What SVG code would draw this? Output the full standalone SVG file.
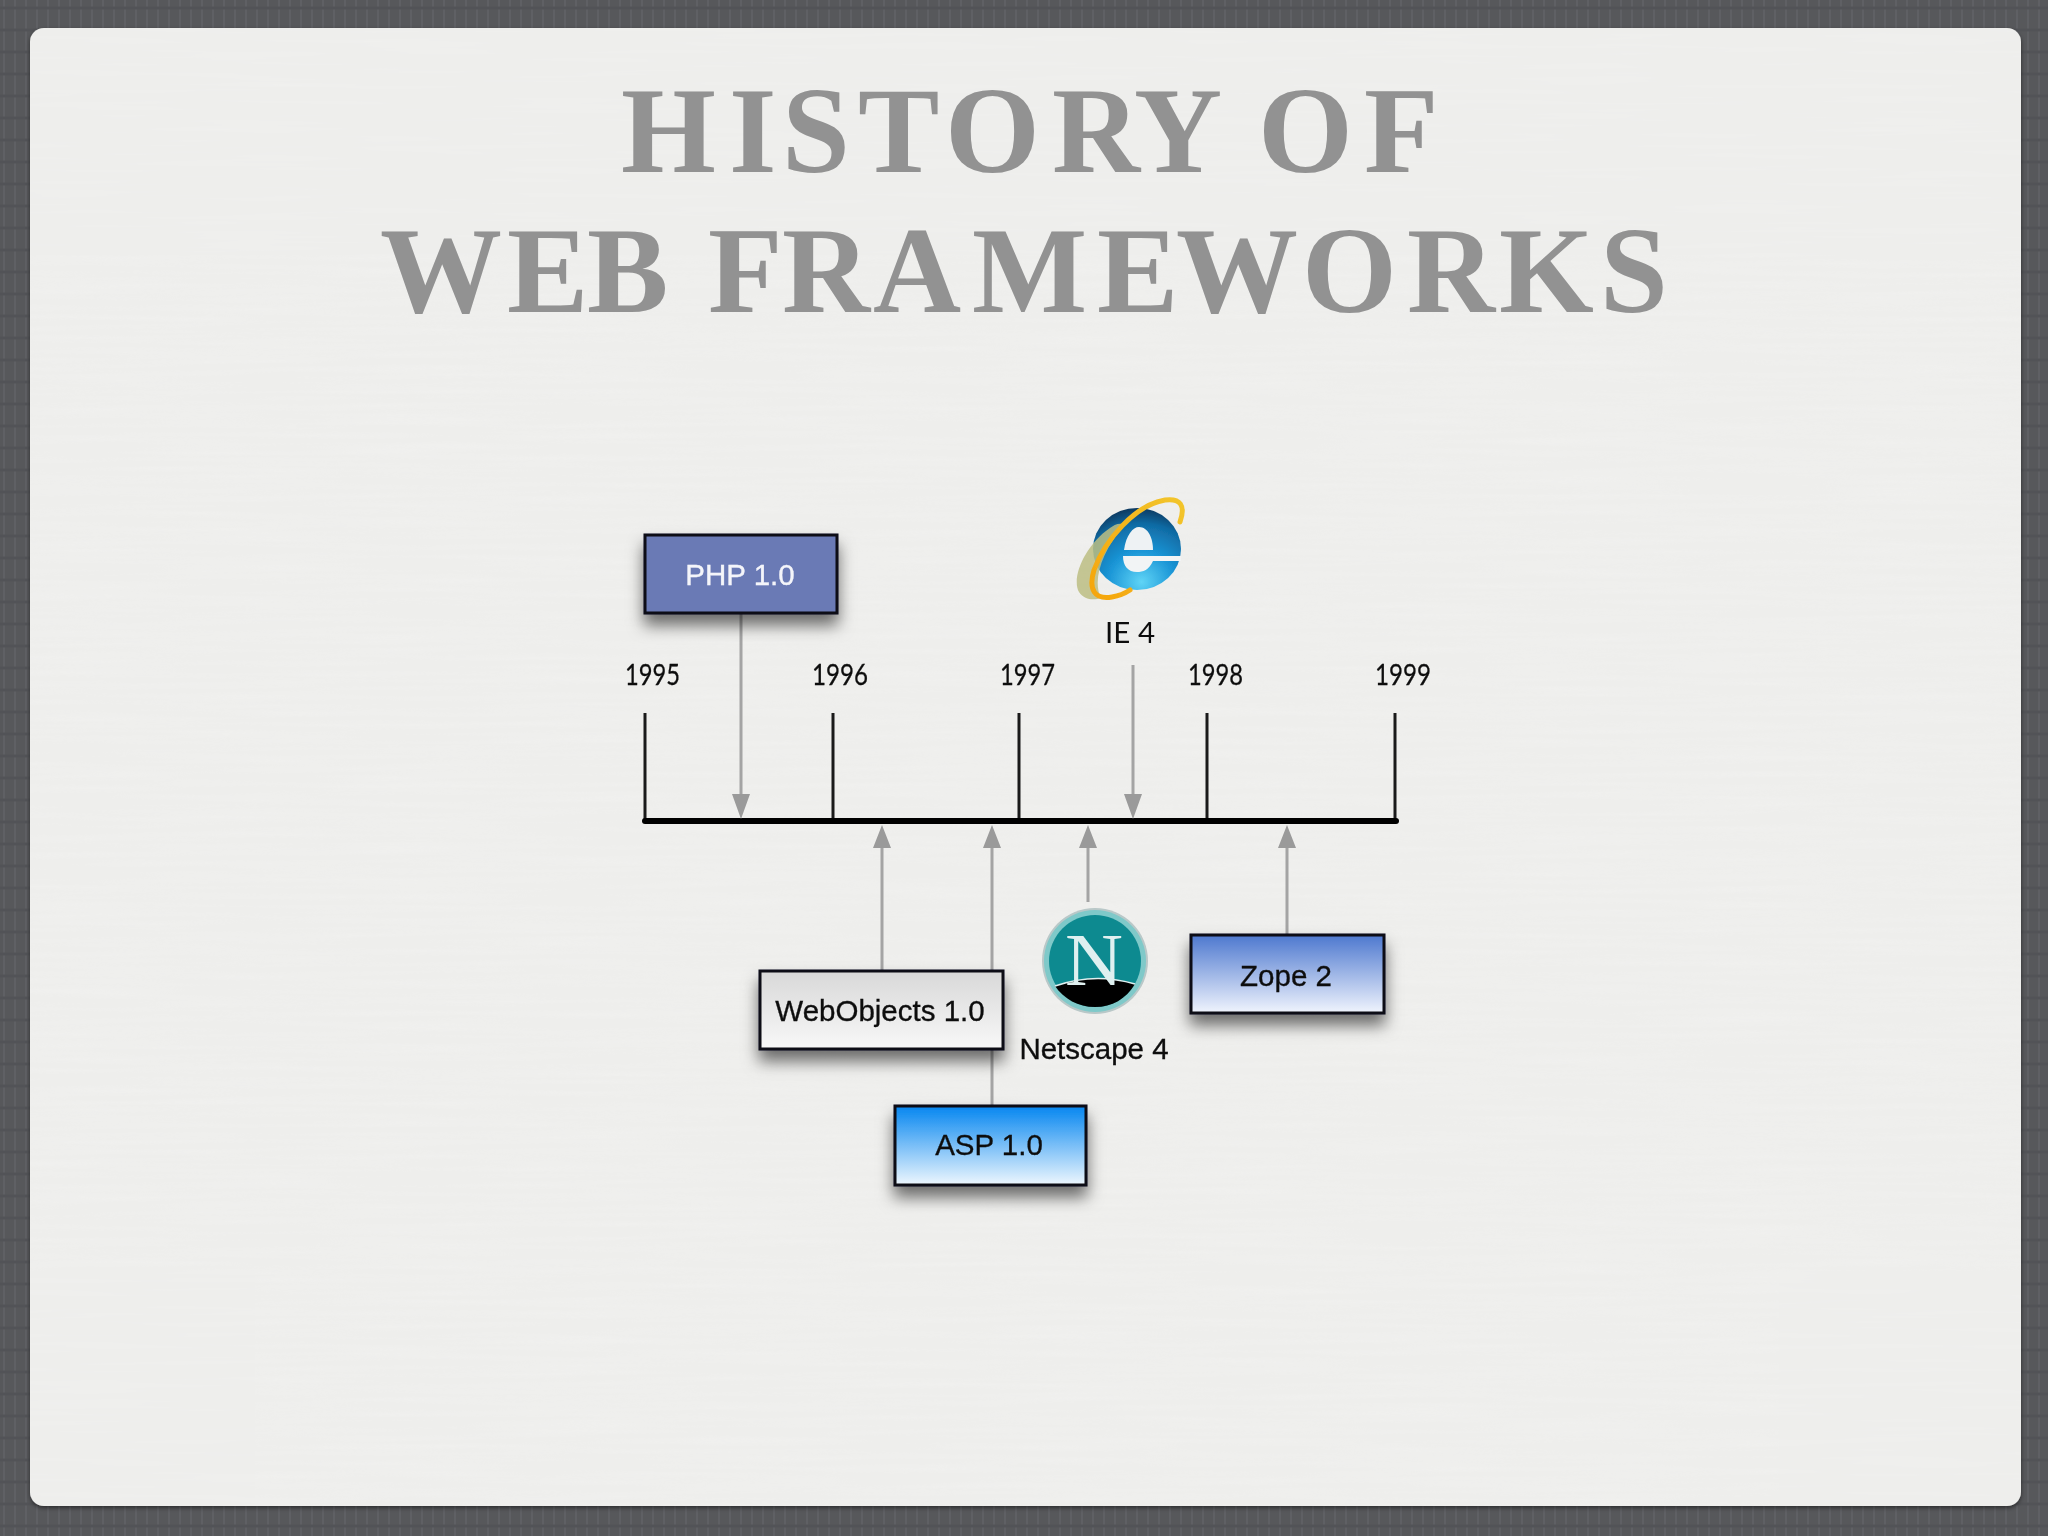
<svg xmlns="http://www.w3.org/2000/svg" width="2048" height="1536" viewBox="0 0 2048 1536">
<style>
.title{font-family:"Liberation Serif",serif;font-weight:700;font-size:122px;fill:#929292}
.year{font-family:Lato,"Liberation Sans",sans-serif;font-size:29px;fill:#111;stroke:#111;stroke-width:.3;filter:url(#soft)}
.lbl{font-family:"Liberation Sans",Arial,sans-serif;font-size:29.5px;fill:#111;text-anchor:middle;stroke:#111;stroke-width:.35;filter:url(#soft)}
.box{stroke:#0c0c12;stroke-width:3;filter:url(#sh)}
.tick{stroke:#1a1a1a;stroke-width:3;fill:none}
.arrow{stroke:#a4a4a4;stroke-width:3;fill:none}
.head{fill:#9a9a9a}
</style>
<defs>
<filter id="sh" x="-20%" y="-20%" width="140%" height="180%"><feDropShadow dx="0" dy="11" stdDeviation="8" flood-color="#000" flood-opacity=".55"/></filter>
<filter id="sl" x="-2%" y="-2%" width="104%" height="104%"><feDropShadow dx="0" dy="2" stdDeviation="2" flood-color="#000" flood-opacity=".5"/></filter>
<filter id="soft" x="-5%" y="-10%" width="110%" height="120%"><feGaussianBlur stdDeviation=".4"/></filter>
<filter id="softer" x="-5%" y="-5%" width="110%" height="110%"><feGaussianBlur stdDeviation=".7"/></filter>
<filter id="grain" x="0" y="0" width="100%" height="100%"><feTurbulence type="fractalNoise" baseFrequency=".006 .18" numOctaves="2" seed="4"/><feColorMatrix values="0 0 0 0 1  0 0 0 0 1  0 0 0 0 1  .9 0 0 0 -.32"/></filter>
<pattern id="linen" width="22" height="22" patternUnits="userSpaceOnUse"><rect width="22" height="22" fill="#57585b"/><path d="M4 0V22M15 0V22" stroke="#5f6064" stroke-width="2"/><path d="M0 8H22" stroke="#525357" stroke-width="3"/></pattern>
<clipPath id="slideClip"><rect x="30" y="28" width="1991" height="1478" rx="14"/></clipPath>
<linearGradient id="gWO" x1="0" y1="0" x2="0" y2="1"><stop offset="0" stop-color="#d8d8d8"/><stop offset="1" stop-color="#f8f8f8"/></linearGradient>
<linearGradient id="gASP" x1="0" y1="0" x2="0" y2="1"><stop offset="0" stop-color="#0586f0"/><stop offset="1" stop-color="#eef7fe"/></linearGradient>
<linearGradient id="gZ" x1="0" y1="0" x2="0" y2="1"><stop offset="0" stop-color="#4d78cf"/><stop offset="1" stop-color="#f0f4fd"/></linearGradient>
<radialGradient id="gGlobe" cx=".55" cy=".9" r=".95"><stop offset="0" stop-color="#5fd4f6"/><stop offset=".4" stop-color="#1a95d6"/><stop offset=".75" stop-color="#106aa3"/><stop offset="1" stop-color="#0a2c4e"/></radialGradient>
<linearGradient id="gRing" x1="0" y1="1" x2="1" y2="0"><stop offset="0" stop-color="#f5a50c"/><stop offset="1" stop-color="#f2c52c"/></linearGradient>
</defs>
<rect width="2048" height="1536" fill="url(#linen)"/>
<rect id="slide" x="30" y="28" width="1991" height="1478" rx="14" fill="#eeeeec" filter="url(#sl)"/>
<g clip-path="url(#slideClip)"><rect x="30" y="28" width="1991" height="1478" filter="url(#grain)" opacity=".25"/></g>
<g id="title">
<text class="title" x="621 729 782 858 945 1052 1134 1210 1258 1364" y="172">HISTORY OF</text>
<text class="title" x="380 507 587 670 708 782 873 972 1097 1176 1302 1407 1499 1600" y="312">WEB FRAMEWORKS</text>
</g>
<g id="timeline">
<path class="tick" d="M645 713V821M833 713V821M1019 713V821M1207 713V821M1395 713V821"/>
<path d="M645 821H1396" stroke="#000" stroke-width="6" stroke-linecap="round"/>
<text class="year" x="625" y="685" textLength="55" lengthAdjust="spacingAndGlyphs">1995</text>
<text class="year" x="812" y="685" textLength="56" lengthAdjust="spacingAndGlyphs">1996</text>
<text class="year" x="1000" y="685" textLength="55" lengthAdjust="spacingAndGlyphs">1997</text>
<text class="year" x="1188" y="685" textLength="55" lengthAdjust="spacingAndGlyphs">1998</text>
<text class="year" x="1375" y="685" textLength="56" lengthAdjust="spacingAndGlyphs">1999</text>
</g>
<g id="connectors">
<path class="arrow" d="M741 613V800M1133 665V800M882 970V840M992 970V840M992 1049V1105M1088 902V840M1287 935V840"/>
<path class="head" d="M741 819l-9-25h18zM1133 819l-9-25h18zM882 825l-9 23h18zM992 825l-9 23h18zM1088 825l-9 23h18zM1287 825l-9 23h18z"/>
</g>
<g id="php"><rect class="box" x="645" y="535" width="192" height="78" fill="#6a7ab5"/><text class="lbl" x="740" y="585" style="fill:#f4f5fa;stroke:#f4f5fa">PHP 1.0</text></g>
<g id="webobjects"><rect class="box" x="760" y="971" width="243" height="78" fill="url(#gWO)"/><text class="lbl" x="880" y="1021">WebObjects 1.0</text></g>
<g id="asp"><rect class="box" x="895" y="1106" width="191" height="79" fill="url(#gASP)"/><text class="lbl" x="989" y="1155">ASP 1.0</text></g>
<g id="zope"><rect class="box" x="1191" y="935" width="193" height="78" fill="url(#gZ)"/><text class="lbl" x="1286" y="986">Zope 2</text></g>
<g id="ie">
<g filter="url(#softer)">
<ellipse cx="1137" cy="549" rx="44" ry="41" fill="url(#gGlobe)"/>
<path d="M1110 528C1085 545 1071 578 1079 592C1085 601 1095 600 1101 598C1092 580 1102 552 1124 525C1120 522 1114 525 1110 528Z" fill="#bcbe82" opacity=".85"/>
<path d="M1124 550C1126 535 1133 527 1139 527C1148 527 1153 538 1153 550Z" fill="#eef2f4"/>
<path d="M1123 556H1181V561H1153C1149 570 1143 572 1137 572C1128 572 1123 566 1123 556Z" fill="#f2f4f5"/>
<path d="M1180 522C1186 505 1180 498 1165 500C1135 505 1105 540 1094 570C1088 590 1095 600 1112 597C1118 596 1124 594 1130 590" fill="none" stroke="url(#gRing)" stroke-width="5" stroke-linecap="round"/>
</g>
<text class="lbl" x="1105" y="643" style="font-family:Lato,sans-serif;text-anchor:start;stroke-width:0" textLength="50" lengthAdjust="spacing">IE 4</text>
</g>
<g id="netscape">
<g filter="url(#softer)">
<circle cx="1095" cy="961" r="53" fill="#b9c8c8"/>
<circle cx="1095" cy="961" r="51" fill="#7fc9c9"/>
<circle cx="1095" cy="961" r="46" fill="#0f8a90"/>
<path d="M1055 986Q1095 972 1135 984C1126 999 1112 1007 1095 1007C1078 1007 1064 999 1055 986Z" fill="#040404"/>
<path d="M1055 986Q1095 972 1135 984" fill="none" stroke="#dff0f0" stroke-width="1.5"/>
<text x="1065" y="985" font-family="Liberation Serif,serif" font-size="74" fill="#dff0f0" textLength="58" lengthAdjust="spacingAndGlyphs">N</text>
</g>
<text class="lbl" x="1094" y="1059">Netscape 4</text>
</g>
</svg>
